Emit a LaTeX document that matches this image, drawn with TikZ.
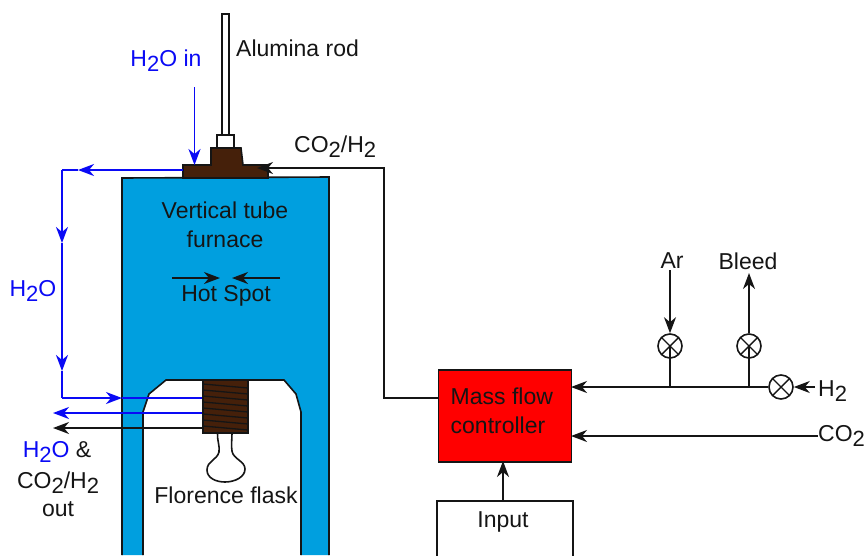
\documentclass[tikz,border=0pt]{standalone}
\usepackage{fontspec}
\setmainfont{Liberation Sans}
\usetikzlibrary{arrows.meta}
\definecolor{furn}{HTML}{009FDF}
\definecolor{brn}{HTML}{45200A}
\definecolor{blu}{HTML}{0A0AF5}
\definecolor{ink}{HTML}{151515}
\newcommand{\two}{\raisebox{-0.42ex}{\fontsize{22}{22}\selectfont 2}}
\tikzset{
  tip/.tip={Stealth[length=16pt,width=12pt,inset=5pt]},
  wire/.style={draw=ink,line width=1.6pt},
  bwire/.style={draw=blu,line width=1.8pt},
  body/.style={draw=ink,line width=1.6pt},
  lbl/.style={inner sep=0pt,text=ink,font=\fontsize{23}{25}\selectfont,align=center},
  blbl/.style={lbl,text=blu},
  valve/.style={circle,draw=ink,line width=1.6pt,minimum size=24pt,inner sep=0pt,
    path picture={\draw[ink,line width=1.4pt]
      (path picture bounding box.north west)--(path picture bounding box.south east)
      (path picture bounding box.north east)--(path picture bounding box.south west);}},
  coilline/.style={draw=ink,line width=1.3pt},
}
\begin{document}
\begin{tikzpicture}[x=1pt,y=-1pt]
\useasboundingbox (0,0) rectangle (867,555);
% furnace
\fill[furn] (122,178) -- (329,177) -- (329,555) -- (301,555) -- (301,412) -- (296,394) -- (284,380) -- (166,380) -- (149,394) -- (143,412) -- (143,555) -- (122,555) -- cycle;
\draw[body] (122,555) -- (122,178) -- (329,177) -- (329,555);
\draw[body] (143,555) -- (143,412) -- (149,394) -- (166,380) -- (284,380) -- (296,394) -- (301,412) -- (301,555);
% alumina rod and seal
\draw[body,fill=white] (222,14) rectangle (229,136);
\draw[body,fill=white] (217,135) rectangle (234,148);
\draw[body,fill=brn] (183,178) -- (183,165) -- (211,165) -- (211,148) -- (241,148) -- (243,165) -- (268,165) -- (268,178) -- cycle;
% water coil lines
\coordinate (blueA) at (62,170);
\coordinate (blueStart) at (183,170);
\coordinate (blueM0) at (78,170);
\coordinate (blueM1) at (62,243);
\coordinate (blueM2) at (62,371);
\coordinate (blueB) at (62,398);
\coordinate (blueM3) at (122,398);
\coordinate (coilIn) at (203,398);
\coordinate (coilOut) at (203,413);
\coordinate (blueEnd) at (53,413);
\coordinate (gasOut) at (203,428);
\coordinate (gasEnd) at (53,428);
\draw[bwire,-tip] (blueStart) -- (blueM0);
\draw[bwire] (blueM0) -- (blueA);
\draw[bwire,-tip] (blueA) -- (blueM1);
\draw[bwire,-tip] (blueM1) -- (blueM2);
\draw[bwire] (blueM2) -- (blueB);
\draw[bwire,-tip] (blueB) -- (blueM3);
\draw[bwire] (blueM3) -- (coilIn);
\draw[bwire,-tip] (coilOut) -- (blueEnd);
\draw[wire,-tip] (gasOut) -- (gasEnd);
% coil
\draw[body,fill=brn] (203,380) rectangle (248,433);
\foreach \y in {384,390,396,402,408,414,420,426}
  \draw[coilline] (203,\y) -- (248,\y+4);
% flask
\draw[wire] (217.5,433) .. controls (217,440) and (220,446) .. (219,452)
  .. controls (217,460) and (207,461) .. (207,470)
  .. controls (207,478) and (216,482) .. (225,482)
  .. controls (235,482) and (245,477) .. (245,469)
  .. controls (245,461) and (233,459) .. (232,451)
  .. controls (231,445) and (232,440) .. (232,433);
% H2O in
\coordinate (waterIn) at (194.5,87);
\coordinate (sealTop) at (194.5,165);
\draw[bwire,-tip] (waterIn) -- (sealTop);
% mass flow
\node[draw=ink,line width=1.6pt,fill=red,minimum width=133pt,minimum height=92pt,inner sep=0pt,anchor=north west] (mfc) at (437.5,369) {};
\node[lbl,anchor=west] (mfc1) at (450.5,396) {Mass flow};
\node[lbl,anchor=west] (mfc2) at (450.5,425) {controller};
\node[draw=ink,line width=1.6pt,fill=white,minimum width=136pt,minimum height=56pt,inner sep=0pt,anchor=north west] (input) at (436,500) {};
\node[lbl] (inputT) at (503,522) {Input};
\draw[wire,-tip] (503,500) coordinate (inTop) -- (503,461) coordinate (mfcBot);
% gas line to seal
\coordinate (seal) at (257,168);
\coordinate (g1) at (384,168);
\coordinate (g2) at (384,398);
\coordinate (g3) at (438,398);
\draw[wire,-tip] (g3) -- (g2) -- (g1) -- (seal);
% valves
\node[valve] (vAr) at (670,346) {};
\node[valve] (vBl) at (749,346) {};
\node[valve] (vH) at (781,387) {};
\coordinate (jAr) at (670,387);
\coordinate (jBl) at (749,387);
\coordinate (mfcH) at (571,387);
\coordinate (mfcC) at (571,436);
\coordinate (arTop) at (670,270);
\coordinate (blTop) at (749,273);
\coordinate (hEnd) at (815,387);
\coordinate (cEnd) at (818,436);
\draw[wire,-tip] (vH) -- (mfcH);
\draw[wire] (jAr) -- (vAr.center);
\draw[wire] (jBl) -- (vBl.center);
\draw[wire,-tip] (vBl.north) -- (blTop);
\draw[wire,-tip] (arTop) -- (vAr.north);
\draw[wire,-tip] (hEnd) -- (vH.east);
\draw[wire,-tip] (cEnd) -- (mfcC);
% hot spot
\coordinate (hs1) at (172,278);
\coordinate (hs2) at (220,278);
\coordinate (hs3) at (280,278);
\coordinate (hs4) at (232,278);
\draw[wire,-tip] (hs1) -- (hs2);
\draw[wire,-tip] (hs3) -- (hs4);
% labels
\node[lbl,anchor=west] (rod) at (236,48) {Alumina rod};
\node[blbl] (h2oin) at (166,61) {H\two O in};
\node[lbl,anchor=west] (co2h2) at (294,147) {CO\two/H\two};
\node[lbl] (vt1) at (225,210) {Vertical tube};
\node[lbl] (vt2) at (225,239) {furnace};
\node[lbl] (hot) at (226,296) {Hot Spot};
\node[blbl] (h2o) at (33,291) {H\two O};
\node[lbl] (o1) at (57,452) {\textcolor{blu}{H\two O} \&};
\node[lbl] (o2) at (58,483) {CO\two/H\two};
\node[lbl] (o3) at (58,509) {out};
\node[lbl] (fl) at (226,495) {Florence flask};
\node[lbl] (ar) at (672,261) {Ar};
\node[lbl] (bl) at (748,261) {Bleed};
\node[lbl,anchor=west] (h2) at (818,391) {H\two};
\node[lbl,anchor=west] (co2) at (818,436) {CO\two};
\end{tikzpicture}
\end{document}
